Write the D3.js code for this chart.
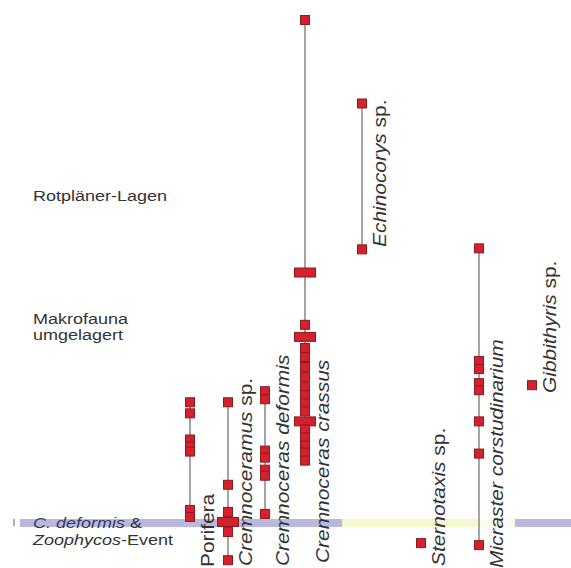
<!DOCTYPE html>
<html><head><meta charset="utf-8">
<script src="https://cdn.jsdelivr.net/npm/d3@7"></script>
<style>html,body{margin:0;padding:0;background:#fff;}svg{display:block;}</style>
</head><body>
<svg id="c" width="571" height="568"></svg>
<script>
// Taxa (order left to right)
const taxa = ["Porifera","Cremnoceramus sp.","Cremnoceras deformis","Cremnoceras crassus","Echinocorys sp.","Sternotaxis sp.","Micraster corstudinarium","Gibbithyris sp."];
// Occurrence levels (cm relative to the C. deformis & Zoophycos-Event); n = number of specimens at that level
const porifera = [{l:120,n:1},{l:109,n:1},{l:83,n:1},{l:76,n:1},{l:71,n:1},{l:13,n:1},{l:6,n:1}];
const cremnoceramus = [{l:120,n:1},{l:38,n:1},{l:11,n:1},{l:1,n:2},{l:-9,n:1},{l:-37,n:1}];
const deformis = [{l:131,n:1},{l:123,n:1},{l:72,n:1},{l:65,n:1},{l:53,n:1},{l:47,n:1},{l:9,n:1}];
const crassus = [{l:500,n:1},{l:249,n:2},{l:197,n:1},{l:185,n:2},{l:174,n:1},{l:165,n:1},{l:155,n:1},{l:145,n:1},{l:135,n:1},{l:127,n:1},{l:119,n:1},{l:111,n:1},{l:101,n:2},{l:93,n:1},{l:85,n:1},{l:77,n:1},{l:70,n:1},{l:62,n:1}];
const echinocorys = [{l:417,n:1},{l:272,n:1}];
const sternotaxis = [{l:-20,n:1}];
const micraster = [{l:273,n:1},{l:161,n:1},{l:153,n:1},{l:139,n:1},{l:132,n:1},{l:101,n:1},{l:69,n:1},{l:-22,n:1}];
const gibbithyris = [{l:137,n:1}];
const occurrences = [porifera,cremnoceramus,deformis,crassus,echinocorys,sternotaxis,micraster,gibbithyris];
// Horizon labels
const horizons = [{lines:["Rotpläner-Lagen"], l:320},{lines:["Makrofauna","umgelagert"], l:198}];

// ---- layout ----
const colX = [190,228,265,305,362,421,479,532];
const labelBottom = [567,566,566,563,247,566,568,393];
const W = 571, H = 568;
const svg = d3.select("#c");
const y = d3.scaleLinear().domain([0,500]).range([523,20]);
const x = d3.scaleOrdinal().domain(taxa).range(colX);

// event band
const bandY = y(0);
const band = [{x0:20,x1:342,c:"#b9b9e0"},{x0:342,x1:478,c:"#f7f7cf"},{x0:478,x1:515,c:"#fbfbec"},{x0:515,x1:571,c:"#b9b9e0"}];
svg.selectAll("rect.band").data(band).join("rect").attr("class","band")
  .attr("x",d=>d.x0).attr("width",d=>d.x1-d.x0).attr("y",bandY-4).attr("height",8).attr("fill",d=>d.c);
svg.append("line").attr("x1",14).attr("x2",14).attr("y1",bandY-4).attr("y2",bandY+3).attr("stroke","#777").attr("stroke-width",1.2);

const font = "Liberation Sans, Arial, sans-serif";
const sx = 1.24;
// band label
const bl = svg.append("text").attr("transform",`translate(33,${bandY+5}) scale(${sx},1)`).attr("font-family",font).attr("font-size",14.5).attr("fill","#333");
bl.append("tspan").attr("font-style","italic").attr("fill","#3a3a5a").text("C. deformis");
bl.append("tspan").text(" &");
const bl2 = svg.append("text").attr("transform",`translate(33,${bandY+22}) scale(${sx},1)`).attr("font-family",font).attr("font-size",14.5).attr("fill","#333");
bl2.append("tspan").attr("font-style","italic").text("Zoophycos");
bl2.append("tspan").text("-Event");

// horizon labels
horizons.forEach(h=>{
  h.lines.forEach((s,i)=>svg.append("text").attr("font-family",font).attr("font-size",15).attr("fill","#333")
    .attr("transform",`translate(33,${y(h.l)+i*16}) scale(1.2,1)`).text(s));
});

// ranges
const g = svg.append("g");
taxa.forEach((t,i)=>{
  const occ = occurrences[i];
  const ext = d3.extent(occ,d=>d.l);
  if (ext[0]!==ext[1]) {
    g.append("line").attr("x1",x(t)).attr("x2",x(t)).attr("y1",y(ext[1])).attr("y2",y(ext[0]))
      .attr("stroke","#8e8e8e").attr("stroke-width",1.6);
  }
});
const s = 9;
taxa.forEach((t,i)=>{
  g.selectAll(null).data(occurrences[i]).join("rect")
    .attr("x",d=>x(t)-s*d.n/2 - (d.n-1)*1.5).attr("width",d=>s*d.n+(d.n-1)*3)
    .attr("y",d=>y(d.l)-s/2).attr("height",s)
    .attr("fill","#d5202e").attr("stroke","#8a1c1c").attr("stroke-width",1);
});

// taxon labels
taxa.forEach((t,i)=>{
  const txt = svg.append("text").attr("font-family",font).attr("font-size",19).attr("fill","#333")
    .attr("transform",`translate(${x(t)+24},${labelBottom[i]}) rotate(-90) scale(1.1,1)`);
  if (t==="Porifera") { txt.text(t); return; }
  const m = t.match(/^(.*?)( sp\.)?$/);
  txt.append("tspan").attr("font-style","italic").text(m[1]);
  if (m[2]) txt.append("tspan").text(m[2]);
});
</script>
</body></html>
